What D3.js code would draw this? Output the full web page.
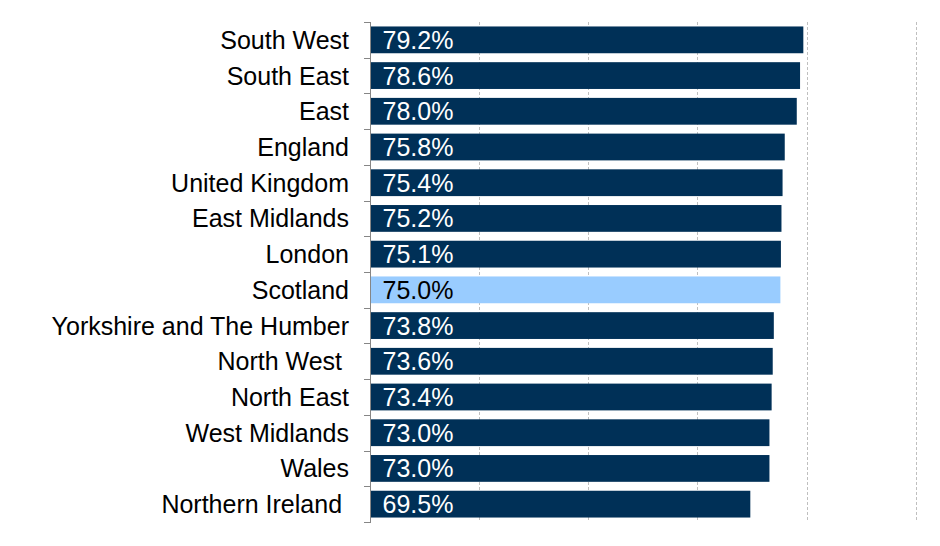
<!DOCTYPE html>
<html><head><meta charset="utf-8">
<script src="https://cdn.jsdelivr.net/npm/d3@7"></script>
<style>body{margin:0;background:#fff}svg{display:block}</style>
</head><body><svg id="c" width="940" height="546"></svg>
<script>
const categories = ["South West","South East","East","England","United Kingdom","East Midlands","London","Scotland","Yorkshire and The Humber","North West ","North East","West Midlands","Wales","Northern Ireland "];
const values = [79.2,78.6,78.0,75.8,75.4,75.2,75.1,75.0,73.8,73.6,73.4,73.0,73.0,69.5];
const highlight = "Scotland";
const gridTicks = [20,40,60,80,100];

const svg = d3.select("#c");
const plotTop = 22, plotBottom = 522;
const x = d3.scaleLinear().domain([0,100]).range([370.5,917]);
const y = d3.scaleBand().domain(categories).range([plotTop,plotBottom]).paddingInner(0.25).paddingOuter(0.125);
const font = "'Liberation Sans', Arial, sans-serif";
const fs = 25;

// gridlines
svg.append("g").selectAll("line").data(gridTicks).join("line")
  .attr("x1",d=>Math.round(x(d))-0.5).attr("x2",d=>Math.round(x(d))-0.5)
  .attr("y1",plotTop).attr("y2",plotBottom)
  .attr("stroke","#bfbfbf").attr("stroke-width",1).attr("stroke-dasharray","3,2");

// bars
svg.append("g").selectAll("rect").data(values).join("rect")
  .attr("x",x(0)).attr("y",(d,i)=>y(categories[i]))
  .attr("width",d=>x(d)-x(0)).attr("height",y.bandwidth())
  .attr("fill",(d,i)=>categories[i]===highlight?"#99CCFF":"#003057");

// value labels
svg.append("g").selectAll("text").data(values).join("text")
  .attr("x",x(0)+12).attr("y",(d,i)=>y(categories[i])+y.bandwidth()/2)
  .attr("dy","0.36em")
  .attr("font-family",font).attr("font-size",fs)
  .attr("fill",(d,i)=>categories[i]===highlight?"#000":"#fff")
  .text(d=>d.toFixed(1)+"%");

// axis line and ticks
const ax = svg.append("g");
ax.append("line").attr("x1",370.5).attr("x2",370.5).attr("y1",plotTop).attr("y2",plotBottom).attr("stroke","#868686");
const bounds = categories.map(c=>y(c)-y.step()*y.paddingInner()/2);
bounds[0]=plotTop;
bounds.push(plotBottom);
ax.selectAll("line.t").data(bounds).join("line").attr("class","t")
  .attr("x1",364).attr("x2",371).attr("y1",d=>Math.round(d)+0.5).attr("y2",d=>Math.round(d)+0.5)
  .attr("stroke","#868686");

// category labels
svg.append("g").selectAll("text").data(categories).join("text")
  .attr("x",349).attr("y",d=>y(d)+y.bandwidth()/2).attr("dy","0.36em")
  .attr("text-anchor","end").attr("font-family",font).attr("font-size",fs)
  .attr("fill","#000").attr("xml:space","preserve").style("white-space","pre")
  .text(d=>d);
</script></body></html>
